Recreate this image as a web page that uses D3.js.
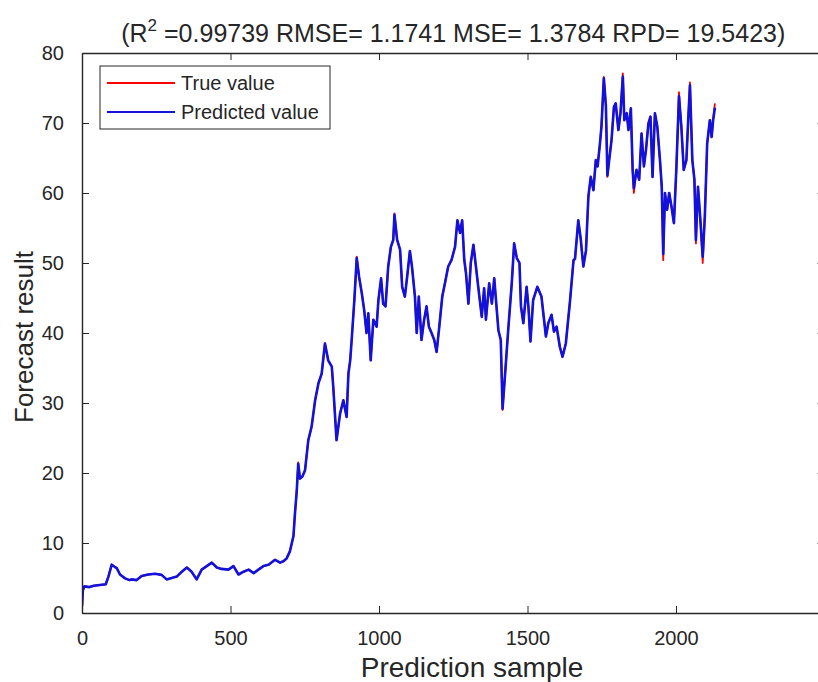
<!DOCTYPE html>
<html>
<head>
<meta charset="utf-8">
<script src="https://cdn.jsdelivr.net/npm/d3@7"></script>
<style>
  html, body { margin: 0; padding: 0; background: #fff; }
  svg { display: block; }
  text { font-family: "Liberation Sans", Arial, Helvetica, sans-serif; fill: #262626; }
</style>
</head>
<body>
<svg id="chart" width="818" height="682"></svg>
<script>
// ---- data ----
const sampleIndex = [
  0,3,8,25,40,60,80,89,100,110,
  117,128,145,160,167,184,201,223,246,268,
  285,302,319,336,353,369,386,403,420,437,
  454,470,493,510,527,544,561,578,594,611,
  628,650,667,678,689,700,712,717,723,728,
  734,742,751,762,773,785,796,807,818,829,
  841,846,857,869,880,891,897,903,908,917,
  925,933,942,950,958,964,972,981,992,998,
  1007,1014,1022,1031,1040,1048,1052,1061,1071,1078,
  1087,1096,1104,1111,1121,1127,1134,1143,1152,1160,
  1168,1177,1186,1194,1203,1213,1222,1233,1244,1256,
  1264,1273,1280,1287,1293,1301,1309,1318,1329,1338,
  1346,1354,1360,1371,1380,1388,1402,1410,1416,1424,
  1435,1447,1455,1464,1473,1478,1486,1497,1503,1510,
  1519,1533,1547,1562,1570,1581,1589,1598,1609,1618,
  1629,1643,1655,1660,1671,1679,1688,1697,1705,1713,
  1722,1730,1736,1744,1749,1757,1764,1769,1775,1783,
  1791,1797,1806,1813,1821,1826,1834,1840,1848,1854,
  1858,1867,1876,1884,1892,1899,1907,1914,1921,1929,
  1937,1946,1952,1957,1963,1970,1977,1985,1993,2001,
  2010,2018,2026,2035,2041,2047,2055,2062,2067,2074,
  2082,2090,2097,2105,2114,2120,2125,2131
];

const trueValues = [
  0.5,3.2,3.8,3.7,3.9,4.0,4.1,5.2,6.9,6.6,
  6.4,5.5,4.95,4.7,4.8,4.7,5.3,5.5,5.6,5.45,
  4.8,5.0,5.2,5.9,6.5,5.9,4.8,6.2,6.7,7.2,
  6.5,6.3,6.2,6.7,5.5,5.9,6.2,5.7,6.2,6.7,
  6.9,7.6,7.2,7.4,7.8,8.8,11.0,14.2,17.4,21.5,
  19.2,19.5,20.4,24.7,26.6,30.4,32.8,34.2,38.5,36.1,
  35.2,32.3,24.7,28.5,30.4,28.0,34.2,36.1,39.0,44.7,
  50.9,48.0,45.7,43.3,40.0,42.8,36.1,41.9,40.9,44.7,
  47.8,44.2,43.8,49.5,52.3,53.3,57.1,53.3,51.9,46.6,
  45.2,48.5,51.7,49.5,45.2,40.0,45.2,39.0,41.9,43.8,
  40.9,40.0,39.0,37.3,40.9,45.2,47.1,49.5,50.4,52.3,
  56.1,54.3,56.1,50.5,48.5,44.2,50.0,52.6,48.5,45.2,
  42.3,46.4,41.9,47.1,44.2,47.8,40.4,39.0,29.0,33.8,
  40.4,47.1,52.8,50.7,50.0,43.8,41.4,46.6,43.8,38.8,
  44.7,46.6,45.2,39.5,41.4,42.6,40.2,40.9,38.0,36.6,
  38.5,44.5,50.4,50.6,56.1,53.5,49.5,51.8,59.5,62.3,
  60.4,64.7,63.8,67.1,69.5,76.6,72.4,62.3,64.7,67.6,
  72.3,72.8,69.0,71.4,77.1,70.4,71.4,69.0,72.1,63.3,
  60.0,63.3,61.9,68.5,63.8,66.2,69.9,70.9,62.3,71.4,
  69.5,64.7,60.9,50.4,60.0,57.6,60.0,58.0,55.7,63.3,
  74.4,69.5,63.3,64.7,70.4,75.8,64.7,61.9,52.8,60.9,
  56.2,50.0,56.6,67.1,70.4,68.0,70.4,72.8
];

const predictedValues = [
  1.0,3.3,3.8,3.7,3.9,4.0,4.1,5.2,6.9,6.6,
  6.4,5.5,4.95,4.7,4.8,4.7,5.3,5.5,5.6,5.45,
  4.8,5.0,5.2,5.9,6.5,5.9,4.8,6.2,6.7,7.2,
  6.5,6.3,6.2,6.7,5.5,5.9,6.2,5.7,6.2,6.7,
  6.9,7.6,7.2,7.4,7.8,8.8,11.0,14.2,17.4,21.3,
  19.2,19.5,20.4,24.7,26.6,30.4,32.8,34.2,38.5,36.1,
  35.2,32.3,24.7,28.5,30.4,28.0,34.2,36.1,39.0,44.7,
  50.7,48.0,45.7,43.3,40.0,42.8,36.1,41.9,40.9,44.7,
  47.8,44.2,43.8,49.5,52.3,53.3,56.9,53.3,51.9,46.6,
  45.2,48.5,51.7,49.5,45.2,40.0,45.2,39.0,41.9,43.8,
  40.9,40.0,39.0,37.3,40.9,45.2,47.1,49.5,50.4,52.3,
  56.1,54.3,56.1,50.5,48.5,44.2,50.0,52.6,48.5,45.2,
  42.3,46.4,41.9,47.1,44.2,47.8,40.4,39.0,29.2,33.8,
  40.4,47.1,52.8,50.7,50.0,43.8,41.4,46.6,43.8,38.8,
  44.7,46.6,45.2,39.5,41.4,42.6,40.2,40.9,38.0,36.6,
  38.5,44.5,50.4,50.6,56.1,53.5,49.5,51.8,59.5,62.3,
  60.4,64.7,63.8,67.1,69.5,76.4,72.4,62.5,64.7,67.6,
  72.3,72.8,69.0,71.4,76.6,70.4,71.4,69.0,72.1,63.3,
  60.7,63.3,61.9,68.5,63.8,66.2,69.9,70.9,62.3,71.4,
  69.5,64.7,60.9,51.3,60.0,57.6,60.0,58.0,55.7,63.3,
  73.8,69.5,63.3,64.7,70.4,75.4,64.7,61.9,53.3,60.9,
  56.2,50.9,56.6,67.1,70.4,68.0,70.4,72.2
];

const xTickValues = [0, 500, 1000, 1500, 2000];
const yTickValues = [0, 10, 20, 30, 40, 50, 60, 70, 80];
const xDomain = [0, 2500];
const yDomain = [0, 80];
const titleMain = "(R";
const titleSup = "2";
const titleRest = " =0.99739 RMSE= 1.1741 MSE= 1.3784 RPD= 19.5423)";
const xLabel = "Prediction sample";
const yLabel = "Forecast result";
const legendLabels = ["True value", "Predicted value"];

// ---- layout ----
const svg = d3.select("#chart");
const mLeft = 82, mRight = 824.5, mTop = 53, mBottom = 613;
const axisColor = "#262626";
const trueColor = "#ff0000";
const predColor = "#1212dc";

const x = d3.scaleLinear().domain(xDomain).range([mLeft, mRight]);
const y = d3.scaleLinear().domain(yDomain).range([mBottom, mTop]);

const nPts = Math.min(sampleIndex.length, trueValues.length, predictedValues.length);
const dataTrue = d3.range(nPts).map(i => [sampleIndex[i], trueValues[i]]);
const dataPred = d3.range(nPts).map(i => [sampleIndex[i], predictedValues[i]]);

const line = d3.line().x(d => x(d[0])).y(d => y(d[1]));

svg.append("clipPath").attr("id", "clip")
  .append("rect").attr("x", mLeft).attr("y", mTop).attr("width", mRight - mLeft).attr("height", mBottom - mTop);

const plot = svg.append("g").attr("clip-path", "url(#clip)");
plot.append("path").datum(dataTrue)
  .attr("fill", "none").attr("stroke", trueColor).attr("stroke-width", 1.8)
  .attr("stroke-linejoin", "round").attr("d", line);
plot.append("path").datum(dataPred)
  .attr("fill", "none").attr("stroke", predColor).attr("stroke-width", 2.6)
  .attr("stroke-linejoin", "round").attr("d", line);

function styleAxis(g) {
  g.selectAll(".domain").attr("stroke", axisColor).attr("stroke-width", 1.4);
  g.selectAll(".tick line").attr("stroke", axisColor).attr("stroke-width", 1);
  g.selectAll(".tick text").attr("fill", axisColor)
    .style("font-family", '"Liberation Sans", Arial, sans-serif').style("font-size", "20px");
}

const xAxisBottom = d3.axisBottom(x).tickValues(xTickValues).tickFormat(d3.format("d"))
  .tickSizeInner(-7).tickSizeOuter(0).tickPadding(18);
svg.append("g").attr("transform", `translate(0,${mBottom})`).call(xAxisBottom).call(styleAxis);

const xAxisTop = d3.axisTop(x).tickValues(xTickValues).tickFormat("")
  .tickSizeInner(-7).tickSizeOuter(0);
svg.append("g").attr("transform", `translate(0,${mTop})`).call(xAxisTop).call(styleAxis);

const yAxisLeft = d3.axisLeft(y).tickValues(yTickValues).tickFormat(d3.format("d"))
  .tickSizeInner(-7).tickSizeOuter(0).tickPadding(18);
svg.append("g").attr("transform", `translate(${mLeft},0)`).call(yAxisLeft).call(styleAxis);

const yAxisRight = d3.axisRight(y).tickValues(yTickValues).tickFormat("")
  .tickSizeInner(-7).tickSizeOuter(0);
svg.append("g").attr("transform", `translate(${mRight},0)`).call(yAxisRight).call(styleAxis);

// title
const title = svg.append("text").attr("x", (mLeft + mRight) / 2).attr("y", 42)
  .attr("text-anchor", "middle").style("font-size", "25px");
title.append("tspan").text(titleMain);
title.append("tspan").attr("dy", -11).style("font-size", "17px").text(titleSup);
title.append("tspan").attr("dy", 11).text(titleRest);

// axis labels
svg.append("text").attr("x", 472).attr("y", 677).attr("text-anchor", "middle")
  .style("font-size", "28px").text(xLabel);
svg.append("text").attr("transform", `translate(33,${(mTop + mBottom) / 2 + 4}) rotate(-90)`)
  .attr("text-anchor", "middle").style("font-size", "26px").text(yLabel);

// legend
const lg = svg.append("g");
lg.append("rect").attr("x", 100).attr("y", 66).attr("width", 230).attr("height", 63)
  .attr("fill", "#fff").attr("stroke", axisColor).attr("stroke-width", 1);
const legendColors = [trueColor, predColor];
legendLabels.forEach((lab, i) => {
  const cy = 83 + i * 29;
  lg.append("line").attr("x1", 107).attr("x2", 175).attr("y1", cy).attr("y2", cy)
    .attr("stroke", legendColors[i]).attr("stroke-width", 1.8);
  lg.append("text").attr("x", 181).attr("y", cy + 7).style("font-size", "20px").text(lab);
});
</script>
</body>
</html>
